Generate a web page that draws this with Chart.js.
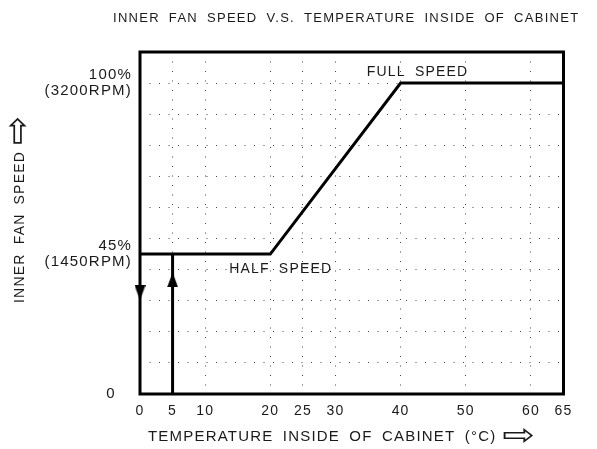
<!DOCTYPE html>
<html>
<head>
<meta charset="utf-8">
<script src="https://cdn.jsdelivr.net/npm/chart.js@4.4.1/dist/chart.umd.min.js"></script>
<style>
  html, body { margin: 0; padding: 0; background: #fff; }
</style>
</head>
<body>
<canvas id="fanChart" width="597" height="449"></canvas>
<script>
// ================= DATA =================
const tempPoints = [0, 20, 40, 65];
const speedPoints = [45, 45, 100, 100];
const startTemp = [5, 5];
const startSpeed = [0, 45];
const xTickValues = [0, 5, 10, 20, 25, 30, 40, 50, 60, 65];
const yTickValues = [0, 10, 20, 30, 40, 45, 50, 60, 70, 80, 90, 100, 110];
const yTickLabels = { 0: '0   ', 45: ['45%', '(1450RPM)'], 100: ['100%', '(3200RPM)'] };
const arrowUp = [{ x: 5, y: 36.7 }];
const arrowDown = [{ x: 0, y: 32.6 }];
const notes = [
  { text: 'FULL SPEED', x: 42.6, y: 103.4 },
  { text: 'HALF SPEED', x: 21.6, y: 40.2 }
];

const FONT = "'Liberation Sans', Arial, sans-serif";
const INK = '#1a1a1a';

// small filled triangles used as arrow heads
function triangle(up) {
  const c = document.createElement('canvas');
  c.width = 11;
  c.height = 15;
  const g = c.getContext('2d');
  g.fillStyle = '#000';
  g.beginPath();
  if (up) { g.moveTo(5.5, 0); g.lineTo(11, 15); g.lineTo(0, 15); }
  else { g.moveTo(0, 0); g.lineTo(11, 0); g.lineTo(5.5, 15); }
  g.closePath();
  g.fill();
  return c;
}

// outline arrow glyph stretched to a given length
function arrowGlyph(ctx, glyph, x, y, len, size) {
  ctx.save();
  ctx.font = size + "px 'DejaVu Sans'";
  ctx.letterSpacing = '0px';
  const w = ctx.measureText(glyph).width;
  ctx.translate(x, y);
  ctx.scale(len / w, 1);
  ctx.textAlign = 'left';
  ctx.textBaseline = 'middle';
  ctx.fillText(glyph, 0, 0);
  ctx.restore();
}

const gridColor = (skip) => c => (c.tick && skip.includes(c.tick.value)) ? 'rgba(0,0,0,0)' : '#444';

// ================= FRAME + TEXT =================
const drawing = {
  id: 'drawing',
  beforeDraw(chart) {
    chart.ctx.letterSpacing = '1.2px';
  },
  afterDraw(chart) {
    const { ctx, chartArea: a, scales } = chart;
    ctx.save();
    ctx.strokeStyle = '#000';
    ctx.lineWidth = 3;
    ctx.strokeRect(a.left, a.top, a.right - a.left, a.bottom - a.top);

    ctx.fillStyle = INK;
    ctx.textBaseline = 'middle';
    ctx.wordSpacing = '4px';

    // notes on the curve
    ctx.font = '14px ' + FONT;
    ctx.letterSpacing = '1.2px';
    ctx.textAlign = 'center';
    notes.forEach(n => {
      ctx.fillText(n.text, scales.x.getPixelForValue(n.x), scales.y.getPixelForValue(n.y));
    });

    // title
    ctx.font = '13px ' + FONT;
    ctx.letterSpacing = '1.3px';
    ctx.textAlign = 'left';
    ctx.fillText('INNER FAN SPEED V.S. TEMPERATURE INSIDE OF CABINET', 113, 18);

    // x axis title
    ctx.font = '15px ' + FONT;
    ctx.letterSpacing = '1.2px';
    const xt = 'TEMPERATURE INSIDE OF CABINET (°C)';
    ctx.fillText(xt, 148, 437);
    const xw = ctx.measureText(xt).width;
    arrowGlyph(ctx, '⇨', 148 + xw + 6, 437, 33, 30);

    // y axis title
    ctx.save();
    ctx.translate(20, 303);
    ctx.rotate(-Math.PI / 2);
    ctx.font = '14px ' + FONT;
    ctx.letterSpacing = '1.2px';
    const yt = 'INNER FAN SPEED';
    ctx.fillText(yt, 0, 0);
    const yw = ctx.measureText(yt).width;
    arrowGlyph(ctx, '⇨', yw + 6, 0, 29, 36);
    ctx.restore();

    ctx.restore();
  }
};

// ================= CHART =================
new Chart(document.getElementById('fanChart'), {
  type: 'line',
  data: {
    datasets: [
      {
        data: tempPoints.map((t, i) => ({ x: t, y: speedPoints[i] })),
        borderColor: '#000',
        borderWidth: 3,
        pointRadius: 0,
        tension: 0,
        clip: false
      },
      {
        data: startTemp.map((t, i) => ({ x: t, y: startSpeed[i] })),
        borderColor: '#000',
        borderWidth: 3,
        pointRadius: 0,
        tension: 0
      },
      {
        data: arrowUp,
        showLine: false,
        pointStyle: triangle(true),
        clip: false
      },
      {
        data: arrowDown,
        showLine: false,
        pointStyle: triangle(false),
        clip: false
      }
    ]
  },
  options: {
    responsive: false,
    animation: false,
    layout: { padding: { top: 52, right: 33.5, bottom: 0, left: 0 } },
    plugins: {
      legend: { display: false },
      tooltip: { enabled: false }
    },
    scales: {
      x: {
        type: 'linear',
        min: 0,
        max: 65,
        afterBuildTicks: s => { s.ticks = xTickValues.map(v => ({ value: v })); },
        afterFit: s => { s.height = 55; },
        grid: { color: gridColor([0, 65]), lineWidth: 1, drawTicks: false },
        border: { display: false, dash: [1, 8.5] },
        ticks: {
          color: INK,
          font: { family: FONT, size: 14 },
          padding: 9,
          maxRotation: 0,
          autoSkip: false,
          callback: v => String(v)
        }
      },
      y: {
        type: 'linear',
        min: 0,
        max: 110,
        afterBuildTicks: s => { s.ticks = yTickValues.map(v => ({ value: v })); },
        afterFit: s => { s.width = 140; },
        grid: { color: gridColor([0, 45, 110]), lineWidth: 1, drawTicks: false },
        border: { display: false, dash: [1, 8.5] },
        ticks: {
          color: INK,
          font: { family: FONT, size: 15, lineHeight: 1.05 },
          padding: 8,
          autoSkip: false,
          callback: v => yTickLabels[v] ?? ''
        }
      }
    }
  },
  plugins: [drawing]
});
</script>
</body>
</html>
